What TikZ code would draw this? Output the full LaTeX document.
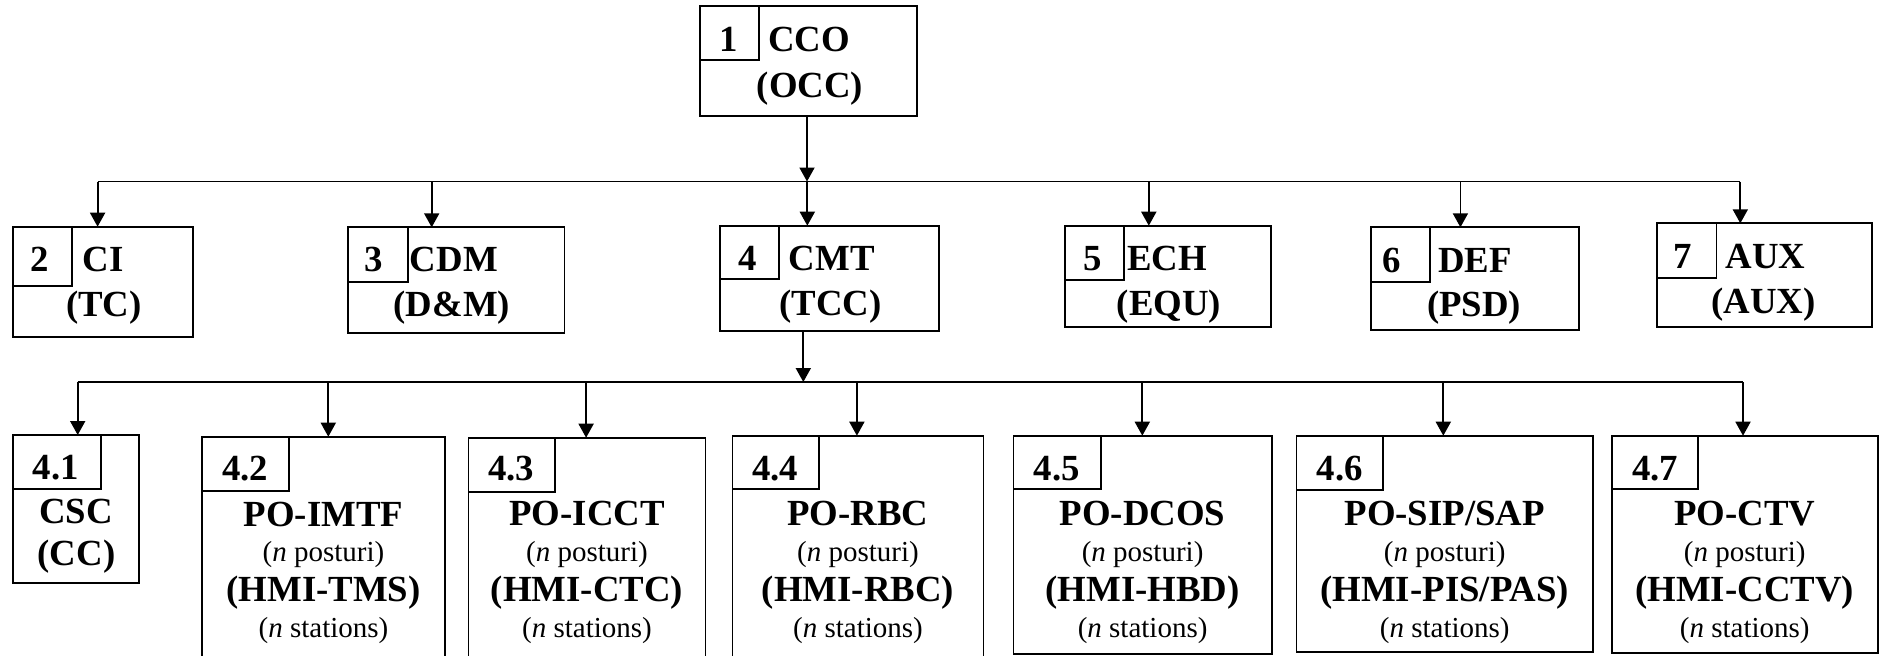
\documentclass[tikz,border=0pt]{standalone}
\usepackage{fontspec}
\setmainfont{Liberation Serif}
\usetikzlibrary{fit,arrows.meta}
\begin{document}
\begin{tikzpicture}[x=0.5pt,y=-0.5pt,
  box/.style={draw, line width=0.9pt, inner sep=0pt, outer sep=0pt},
  big/.style={font=\fontsize{18.4}{20}\selectfont\bfseries, inner sep=0pt},
  sml/.style={font=\fontsize{14.5}{16}\selectfont, inner sep=0pt},
  conn/.style={line width=0.9pt},
  arr/.style={conn, -{Triangle[length=7pt,width=7.5pt]}}]
\clip (0,0) rectangle (1883,655);
% ---------- top boxes ----------
\node[box, fit={(700,6) (917,116)}] (b1) {};
\node[box, fit={(700,6) (759,60)}] (b1n) {};
\node[big, anchor=base] (t1n) at (729,51) {1};
\node[big, anchor=base west] (t1a) at (768,51) {CCO};
\node[big, anchor=base] (t1b) at (810,97) {(OCC)};

\node[box, fit={(12.6,226.7) (193.3,336.7)}] (b2) {};
\node[box, fit={(12.6,226.7) (71.6,286)}] (b2n) {};
\node[big, anchor=base] (t2n) at (40,271.7) {2};
\node[big, anchor=base west] (t2a) at (82.3,271.7) {CI};
\node[big, anchor=base] (t2b) at (104,316.7) {(TC)};

\node[box, fit={(348.3,227.3) (564.5,332.7)}] (b3) {};
\node[box, fit={(348.3,227.3) (407.6,281.7)}] (b3n) {};
\node[big, anchor=base] (t3n) at (374,271.7) {3};
\node[big, anchor=base west] (t3a) at (409.5,271.7) {CDM};
\node[big, anchor=base] (t3b) at (451.8,316.7) {(D\&M)};

\node[box, fit={(720,225.7) (939.3,331)}] (b4) {};
\node[box, fit={(720,225.7) (779.3,279.3)}] (b4n) {};
\node[big, anchor=base] (t4n) at (748,270) {4};
\node[big, anchor=base west] (t4a) at (788.3,270) {CMT};
\node[big, anchor=base] (t4b) at (830.5,315) {(TCC)};

\node[box, fit={(1064.6,225.7) (1271.3,327.3)}] (b5) {};
\node[box, fit={(1064.6,225.7) (1124,280)}] (b5n) {};
\node[big, anchor=base] (t5n) at (1093,270) {5};
\node[big, anchor=base west] (t5a) at (1127,270) {ECH};
\node[big, anchor=base] (t5b) at (1169,315) {(EQU)};

\node[box, fit={(1370.9,227.3) (1578.8,330)}] (b6) {};
\node[box, fit={(1370.9,227.3) (1430.3,281.7)}] (b6n) {};
\node[big, anchor=base] (t6n) at (1392,272.7) {6};
\node[big, anchor=base west] (t6a) at (1438,272.7) {DEF};
\node[big, anchor=base] (t6b) at (1474,316.7) {(PSD)};

\node[box, fit={(1657,223.3) (1872,326.7)}] (b7) {};
\node[box, fit={(1657,223.3) (1716.4,278.3)}] (b7n) {};
\node[big, anchor=base] (t7n) at (1682.5,268.3) {7};
\node[big, anchor=base west] (t7a) at (1725.4,268.3) {AUX};
\node[big, anchor=base] (t7b) at (1763.6,313.3) {(AUX)};

% ---------- top connectors ----------
\coordinate (j1) at (807,181.5);
\coordinate (d2) at (97.6,181.5);
\coordinate (d3) at (431.7,181.5);
\coordinate (d4) at (807.3,181.5);
\coordinate (d5) at (1148.8,181.5);
\coordinate (d6) at (1460.4,181.5);
\coordinate (d7) at (1740.3,181.5);
\draw[arr] (j1 |- b1.south) -- (j1);
\draw[conn] (d2) -- (d7);
\foreach \k in {2,...,7} {\draw[arr] (d\k) -- (d\k |- b\k.north);}

% ---------- lower boxes ----------
\node[box, fit={(13.3,435) (139,583.3)}] (b41) {};
\node[box, fit={(13.3,435) (100.7,489)}] (b41n) {};
\node[big, anchor=base] (t41n) at (55.8,479) {4.1};
\node[big, anchor=base] (t41a) at (76,523) {CSC};
\node[big, anchor=base] (t41b) at (76.5,565) {(CC)};

\node[box, fit={(202,436.7) (445,690)}] (b42) {};
\node[box, fit={(202,436.7) (289,491)}] (b42n) {};
\node[big, anchor=base] (t42n) at (245,480) {4.2};
\node[big, anchor=base] (t42a) at (323.5,526) {PO-IMTF};
\node[sml, anchor=base] (t42b) at (323.5,561.7) {(\textit{n} posturi)};
\node[big, anchor=base] (t42c) at (323.5,601.5) {(HMI-TMS)};
\node[sml, anchor=base] (t42d) at (323.5,637.5) {(\textit{n} stations)};

\node[box, fit={(468.5,437.7) (705.5,690)}] (b43) {};
\node[box, fit={(468.5,437.7) (555.2,492.3)}] (b43n) {};
\node[big, anchor=base] (t43n) at (511,480) {4.3};
\node[big, anchor=base] (t43a) at (587,525.5) {PO-ICCT};
\node[sml, anchor=base] (t43b) at (587,561.7) {(\textit{n} posturi)};
\node[big, anchor=base] (t43c) at (587,601.5) {(HMI-CTC)};
\node[sml, anchor=base] (t43d) at (587,637.5) {(\textit{n} stations)};

\node[box, fit={(732.5,435.7) (983.5,690)}] (b44) {};
\node[box, fit={(732.5,435.7) (819.3,489.3)}] (b44n) {};
\node[big, anchor=base] (t44n) at (775,480) {4.4};
\node[big, anchor=base] (t44a) at (858,525.5) {PO-RBC};
\node[sml, anchor=base] (t44b) at (858,561.7) {(\textit{n} posturi)};
\node[big, anchor=base] (t44c) at (858,601.5) {(HMI-RBC)};
\node[sml, anchor=base] (t44d) at (858,637.5) {(\textit{n} stations)};

\node[box, fit={(1013.5,435.7) (1271.7,654)}] (b45) {};
\node[box, fit={(1013.5,435.7) (1100.7,489.3)}] (b45n) {};
\node[big, anchor=base] (t45n) at (1056.7,480) {4.5};
\node[big, anchor=base] (t45a) at (1142.6,525.5) {PO-DCOS};
\node[sml, anchor=base] (t45b) at (1142.6,561.7) {(\textit{n} posturi)};
\node[big, anchor=base] (t45c) at (1142.6,601.5) {(HMI-HBD)};
\node[sml, anchor=base] (t45d) at (1142.6,637.5) {(\textit{n} stations)};

\node[box, fit={(1296.5,435.7) (1593,652.3)}] (b46) {};
\node[box, fit={(1296.5,435.7) (1383.3,490)}] (b46n) {};
\node[big, anchor=base] (t46n) at (1339.7,480) {4.6};
\node[big, anchor=base] (t46a) at (1444.7,525.5) {PO-SIP/SAP};
\node[sml, anchor=base] (t46b) at (1444.7,561.7) {(\textit{n} posturi)};
\node[big, anchor=base] (t46c) at (1444.7,601.5) {(HMI-PIS/PAS)};
\node[sml, anchor=base] (t46d) at (1444.7,637.5) {(\textit{n} stations)};

\node[box, fit={(1611.7,435.7) (1877.7,653)}] (b47) {};
\node[box, fit={(1611.7,435.7) (1698.3,489)}] (b47n) {};
\node[big, anchor=base] (t47n) at (1655,480) {4.7};
\node[big, anchor=base] (t47a) at (1744.7,525.5) {PO-CTV};
\node[sml, anchor=base] (t47b) at (1744.7,561.7) {(\textit{n} posturi)};
\node[big, anchor=base] (t47c) at (1744.7,601.5) {(HMI-CCTV)};
\node[sml, anchor=base] (t47d) at (1744.7,637.5) {(\textit{n} stations)};

% ---------- lower connectors ----------
\coordinate (j2) at (803.3,382);
\coordinate (e41) at (77.7,382);
\coordinate (e42) at (328.3,382);
\coordinate (e43) at (586.1,382);
\coordinate (e44) at (856.9,382);
\coordinate (e45) at (1142.3,382);
\coordinate (e46) at (1443.3,382);
\coordinate (e47) at (1743,382);
\draw[arr] (j2 |- b4.south) -- (j2);
\draw[conn] (e41) -- (e47);
\foreach \k in {41,...,47} {\draw[arr] (e\k) -- (e\k |- b\k.north);}
\end{tikzpicture}
\end{document}
